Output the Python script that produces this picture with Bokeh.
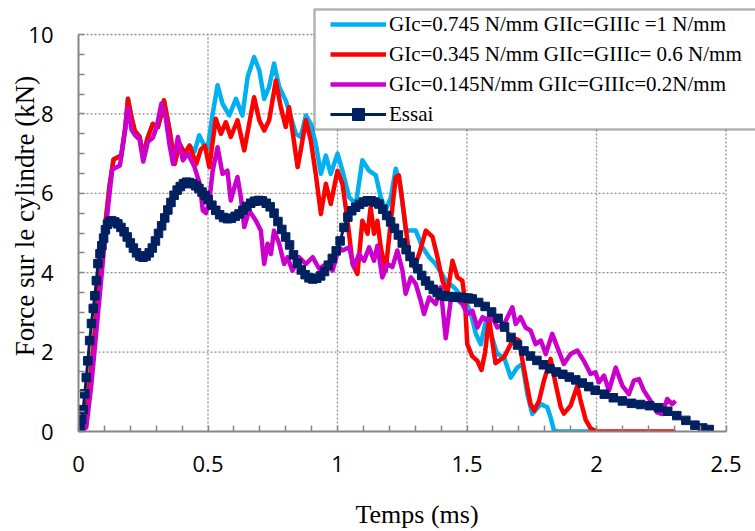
from bokeh.plotting import figure
from bokeh.models import Legend, LegendItem, FixedTicker, Range1d, BoxAnnotation
from bokeh.embed import file_html
from bokeh.resources import INLINE

# ---------------- data ----------------
x_ticks = [0, 0.5, 1, 1.5, 2, 2.5]
x_tick_labels = ["0", "0.5", "1", "1.5", "2", "2.5"]
x_minor = [0.1, 0.2, 0.3, 0.4, 0.6, 0.7, 0.8, 0.9, 1.1, 1.2, 1.3, 1.4,
           1.6, 1.7, 1.8, 1.9, 2.1, 2.2, 2.3, 2.4]
y_ticks = [0, 2, 4, 6, 8, 10]
y_tick_labels = ["0", "2", "4", "6", "8", "10"]
y_minor = [0.5, 1, 1.5, 2.5, 3, 3.5, 4.5, 5, 5.5, 6.5, 7, 7.5, 8.5, 9, 9.5]

series_labels = [
    "GIc=0.745 N/mm GIIc=GIIIc =1 N/mm",
    "GIc=0.345 N/mm GIIc=GIIIc= 0.6 N/mm",
    "GIc=0.145N/mm GIIc=GIIIc=0.2N/mm",
    "Essai",
]

t_blue = [0.000, 0.020, 0.040, 0.060, 0.080, 0.100, 0.120, 0.135, 0.150, 0.165,
          0.180, 0.191, 0.205, 0.217, 0.236, 0.249, 0.268, 0.287, 0.307, 0.318,
          0.330, 0.352, 0.371, 0.390, 0.410, 0.429, 0.448, 0.466, 0.482, 0.498,
          0.518, 0.537, 0.556, 0.582, 0.608, 0.633, 0.653, 0.678, 0.698, 0.717,
          0.736, 0.755, 0.775, 0.800, 0.820, 0.839, 0.858, 0.878, 0.897, 0.916,
          0.936, 0.955, 0.974, 1.000, 1.019, 1.045, 1.071, 1.096, 1.122, 1.148,
          1.167, 1.186, 1.206, 1.225, 1.244, 1.263, 1.302, 1.328, 1.354, 1.379,
          1.418, 1.450, 1.482, 1.500, 1.514, 1.534, 1.553, 1.575, 1.595, 1.617,
          1.643, 1.669, 1.694, 1.714, 1.733, 1.752, 1.785, 1.810, 1.823, 1.836,
          1.850, 1.977]
f_blue = [0.00, 0.05, 1.00, 2.30, 3.70, 5.00, 6.20, 6.85, 6.90, 6.95,
          7.60, 8.38, 7.90, 7.58, 7.42, 6.95, 7.42, 7.75, 7.67, 7.95,
          8.34, 7.58, 6.74, 7.25, 7.00, 7.20, 7.05, 7.46, 7.25, 7.10,
          8.00, 8.72, 8.26, 7.96, 8.38, 7.96, 8.93, 9.43, 9.10, 8.38,
          8.68, 9.27, 8.68, 8.34, 7.92, 7.50, 7.42, 7.96, 7.75, 7.25,
          6.49, 6.95, 6.49, 7.00, 6.57, 5.90, 5.73, 6.83, 6.57, 6.45,
          5.90, 5.57, 5.90, 6.62, 6.15, 5.06, 5.06, 4.64, 4.39, 4.22,
          3.80, 3.63, 3.38, 3.20, 3.00, 2.46, 2.20, 2.85, 2.40, 1.95,
          1.87, 1.36, 1.61, 1.70, 0.94, 0.44, 0.69, 0.61, 0.35, 0.03,
          0.00, 0.00]

t_red = [0.000, 0.020, 0.040, 0.060, 0.080, 0.100, 0.120, 0.135, 0.150, 0.165,
         0.180, 0.191, 0.205, 0.217, 0.236, 0.249, 0.268, 0.287, 0.307, 0.318,
         0.330, 0.352, 0.371, 0.390, 0.410, 0.429, 0.455, 0.472, 0.488, 0.505,
         0.530, 0.550, 0.569, 0.588, 0.614, 0.640, 0.659, 0.678, 0.698, 0.717,
         0.736, 0.762, 0.781, 0.800, 0.813, 0.826, 0.846, 0.858, 0.878, 0.897,
         0.916, 0.936, 0.955, 0.974, 1.000, 1.019, 1.039, 1.058, 1.077, 1.096,
         1.116, 1.128, 1.141, 1.154, 1.167, 1.186, 1.206, 1.225, 1.237, 1.257,
         1.276, 1.296, 1.315, 1.341, 1.367, 1.386, 1.405, 1.424, 1.444, 1.463,
         1.482, 1.492, 1.501, 1.520, 1.540, 1.556, 1.570, 1.585, 1.610, 1.643,
         1.680, 1.700, 1.726, 1.745, 1.759, 1.778, 1.797, 1.823, 1.842, 1.862,
         1.874, 1.900, 1.926, 1.939, 1.958, 1.977, 2.000, 2.305]
f_red = [0.00, 0.05, 1.00, 2.30, 3.70, 5.00, 6.20, 6.85, 6.90, 6.95,
         7.60, 8.38, 7.90, 7.58, 7.42, 6.95, 7.42, 7.75, 7.67, 7.95,
         8.34, 7.58, 6.74, 7.25, 7.00, 7.20, 6.74, 7.10, 7.20, 6.66,
         7.88, 7.50, 7.79, 7.42, 7.84, 7.08, 7.75, 8.42, 7.84, 7.58,
         7.84, 8.84, 8.17, 7.67, 8.17, 7.58, 6.66, 7.08, 7.84, 7.33,
         6.49, 5.48, 6.24, 5.73, 6.57, 6.24, 5.31, 4.22, 3.97, 5.31,
         4.98, 5.65, 4.98, 5.31, 4.64, 4.05, 5.31, 6.41, 6.45, 5.48,
         4.47, 4.14, 4.47, 5.06, 4.90, 4.39, 3.80, 3.47, 4.30, 3.88,
         3.80, 3.30, 2.20, 1.90, 1.78, 1.55, 2.00, 2.85, 1.72, 1.87,
         2.35, 2.30, 1.36, 0.70, 0.52, 0.77, 1.28, 1.83, 1.20, 0.61,
         0.45, 0.65, 1.15, 0.77, 0.30, 0.08, 0.00, 0.00]

t_mag = [0.000, 0.030, 0.050, 0.070, 0.090, 0.110, 0.130, 0.145, 0.160, 0.175,
         0.190, 0.205, 0.220, 0.236, 0.250, 0.268, 0.287, 0.303, 0.320, 0.337,
         0.352, 0.365, 0.384, 0.403, 0.422, 0.448, 0.468, 0.480, 0.492, 0.505,
         0.518, 0.537, 0.556, 0.575, 0.588, 0.604, 0.614, 0.627, 0.640, 0.659,
         0.685, 0.704, 0.717, 0.730, 0.743, 0.755, 0.775, 0.794, 0.807, 0.826,
         0.852, 0.878, 0.904, 0.929, 0.955, 0.981, 1.006, 1.019, 1.045, 1.064,
         1.083, 1.103, 1.122, 1.141, 1.154, 1.173, 1.193, 1.212, 1.231, 1.251,
         1.263, 1.283, 1.302, 1.321, 1.334, 1.354, 1.379, 1.398, 1.418, 1.437,
         1.456, 1.482, 1.501, 1.521, 1.540, 1.560, 1.579, 1.598, 1.617, 1.643,
         1.675, 1.688, 1.707, 1.726, 1.746, 1.765, 1.785, 1.804, 1.829, 1.849,
         1.874, 1.900, 1.926, 1.951, 1.977, 1.996, 2.009, 2.029, 2.048, 2.074,
         2.100, 2.125, 2.144, 2.164, 2.183, 2.209, 2.234, 2.253, 2.273, 2.292,
         2.305]
f_mag = [0.00, 0.10, 1.20, 2.60, 4.00, 5.40, 6.60, 6.65, 6.70, 7.40,
         8.15, 7.60, 7.45, 7.35, 6.80, 7.30, 7.40, 7.70, 8.26, 7.90,
         7.20, 6.74, 7.42, 6.83, 7.00, 6.66, 6.24, 5.57, 5.50, 5.80,
         6.57, 7.16, 6.49, 6.57, 5.82, 6.20, 6.41, 5.90, 5.15, 5.57,
         5.31, 5.06, 4.22, 4.73, 4.47, 5.06, 4.73, 4.22, 4.39, 4.05,
         4.39, 4.22, 4.39, 4.10, 4.22, 4.05, 4.64, 4.56, 4.64, 4.14,
         4.47, 4.30, 4.64, 4.30, 4.68, 3.88, 4.22, 4.14, 4.56, 4.05,
         3.47, 3.88, 3.72, 3.30, 2.96, 3.38, 3.21, 3.63, 2.35, 3.30,
         3.38, 3.21, 2.96, 3.04, 2.62, 2.88, 2.79, 2.88, 2.62, 2.70,
         3.13, 2.71, 2.88, 2.62, 2.54, 2.20, 2.29, 1.95, 2.46, 2.12,
         1.70, 1.95, 2.04, 1.78, 1.45, 1.49, 1.24, 1.41, 1.03, 1.61,
         1.15, 0.94, 1.28, 1.32, 1.03, 0.77, 0.48, 0.44, 0.82, 0.69,
         0.77]

t_essai = [0.000, 0.006, 0.012, 0.018, 0.024, 0.030, 0.036, 0.043, 0.050, 0.057,
           0.063, 0.069, 0.075, 0.083, 0.090, 0.097, 0.104, 0.112, 0.120, 0.128,
           0.140, 0.152, 0.164, 0.176, 0.188, 0.200, 0.212, 0.224, 0.237, 0.249,
           0.261, 0.273, 0.285, 0.297, 0.309, 0.321, 0.333, 0.345, 0.357, 0.369,
           0.381, 0.393, 0.405, 0.417, 0.429, 0.441, 0.453, 0.465, 0.477, 0.489,
           0.501, 0.515, 0.530, 0.545, 0.560, 0.575, 0.590, 0.605, 0.620, 0.635,
           0.650, 0.665, 0.680, 0.695, 0.710, 0.725, 0.740, 0.755, 0.770, 0.785,
           0.800, 0.815, 0.830, 0.845, 0.860, 0.875, 0.890, 0.905, 0.920, 0.935,
           0.950, 0.965, 0.980, 0.995, 1.010, 1.025, 1.040, 1.055, 1.070, 1.085,
           1.100, 1.115, 1.130, 1.145, 1.160, 1.175, 1.190, 1.205, 1.220, 1.235,
           1.250, 1.265, 1.280, 1.295, 1.310, 1.325, 1.340, 1.355, 1.370, 1.385,
           1.400, 1.415, 1.430, 1.445, 1.460, 1.475, 1.490, 1.505, 1.520, 1.545,
           1.570, 1.595, 1.620, 1.645, 1.670, 1.695, 1.720, 1.745, 1.770, 1.795,
           1.820, 1.845, 1.870, 1.895, 1.920, 1.945, 1.970, 1.995, 2.030, 2.065,
           2.100, 2.135, 2.170, 2.205, 2.240, 2.275, 2.310, 2.345, 2.380, 2.410,
           2.435]
f_essai = [0.00, 0.10, 0.30, 0.55, 0.95, 1.36, 1.78, 2.29, 2.72, 3.10,
           3.42, 3.80, 4.23, 4.48, 4.68, 4.87, 5.08, 5.22, 5.29, 5.31,
           5.28, 5.23, 5.14, 5.03, 4.90, 4.75, 4.62, 4.50, 4.42, 4.39,
           4.42, 4.50, 4.62, 4.80, 4.99, 5.18, 5.38, 5.58, 5.77, 5.95,
           6.08, 6.17, 6.24, 6.28, 6.27, 6.24, 6.19, 6.12, 6.03, 5.94,
           5.84, 5.70, 5.57, 5.46, 5.39, 5.36, 5.37, 5.42, 5.48, 5.57,
           5.67, 5.75, 5.80, 5.82, 5.81, 5.75, 5.66, 5.50, 5.29, 5.09,
           4.90, 4.70, 4.45, 4.24, 4.07, 3.95, 3.87, 3.84, 3.86, 3.92,
           4.03, 4.19, 4.36, 4.55, 4.80, 5.14, 5.40, 5.56, 5.65, 5.72,
           5.78, 5.81, 5.81, 5.78, 5.73, 5.60, 5.44, 5.28, 5.12, 4.95,
           4.75, 4.58, 4.41, 4.25, 4.10, 3.93, 3.79, 3.68, 3.58, 3.50,
           3.43, 3.41, 3.40, 3.39, 3.38, 3.38, 3.37, 3.36, 3.34, 3.25,
           3.15, 3.01, 2.85, 2.63, 2.37, 2.18, 2.03, 1.90, 1.79, 1.68,
           1.58, 1.50, 1.44, 1.37, 1.30, 1.22, 1.13, 1.04, 0.94, 0.85,
           0.77, 0.71, 0.68, 0.65, 0.60, 0.51, 0.40, 0.28, 0.16, 0.09,
           0.05]

# ---------------- layout (pixels) ----------------
W, H = 755, 531
LEFT, BOTTOM = 78, 100
FRAME_W = W - LEFT          # frame runs to the right edge (room for legend)
FRAME_H = H - BOTTOM        # frame runs to the top edge (room for legend)
PX_X = 259.0                # pixels per ms
PX_Y = 39.7                 # pixels per kN

AX = "#868686"
p = figure(width=W, height=H, output_backend="svg", toolbar_location=None,
           title=None,
           x_range=Range1d(0, FRAME_W / PX_X), y_range=Range1d(0, FRAME_H / PX_Y),
           min_border_left=LEFT, min_border_right=0, min_border_top=0,
           min_border_bottom=BOTTOM)
p.outline_line_color = None
p.background_fill_color = "white"
p.xgrid.visible = False
p.ygrid.visible = False

xt = FixedTicker(ticks=x_ticks, minor_ticks=x_minor)
yt = FixedTicker(ticks=y_ticks, minor_ticks=y_minor)
p.xaxis.ticker = xt
p.yaxis.ticker = yt
p.xaxis.bounds = (x_ticks[0], x_ticks[-1])
p.yaxis.bounds = (y_ticks[0], y_ticks[-1])
p.xaxis.major_label_overrides = {float(v): s for v, s in zip(x_ticks, x_tick_labels)}
p.yaxis.major_label_overrides = {float(v): s for v, s in zip(y_ticks, y_tick_labels)}

# dotted grid, limited to the data area
gx = x_ticks[1:]
p.segment(x0=gx, y0=[y_ticks[0]] * len(gx), x1=gx, y1=[y_ticks[-1]] * len(gx),
          line_color="#8f8f8f", line_dash="2 2", line_width=1.3)
gy = y_ticks[1:]
p.segment(x0=[x_ticks[0]] * len(gy), y0=gy, x1=[x_ticks[-1]] * len(gy), y1=gy,
          line_color="#8f8f8f", line_dash="2 2", line_width=1.3)

for ax in (p.xaxis[0], p.yaxis[0]):
    ax.axis_line_color = AX
    ax.axis_line_width = 2
    ax.major_tick_line_color = AX
    ax.minor_tick_line_color = AX
    ax.major_tick_line_width = 1.5
    ax.minor_tick_line_width = 1.5
    ax.major_tick_in = 6
    ax.major_tick_out = 0
    ax.minor_tick_in = 6
    ax.minor_tick_out = 0
    ax.major_label_text_font = "Open Sans"
    ax.major_label_text_font_size = "22px"
    ax.major_label_text_color = "black"
    ax.axis_label_text_font = "Liberation Serif"
    ax.axis_label_text_font_style = "normal"
    ax.axis_label_text_color = "black"

p.xaxis.axis_label = "Temps (ms)"
p.yaxis.axis_label = "Force sur le cylindre (kN)"
p.xaxis.axis_label_text_font_size = "26px"
p.yaxis.axis_label_text_font_size = "27px"
p.xaxis.major_label_standoff = 24
p.yaxis.major_label_standoff = 25
p.xaxis.axis_label_standoff = 25
p.yaxis.axis_label_standoff = -15

r_blue = p.line(t_blue, f_blue, line_color="#00B0F0", line_width=4.5, line_join="round")
r_red = p.line(t_red, f_red, line_color="#FF0000", line_width=4.5, line_join="round")
r_mag = p.line(t_mag, f_mag, line_color="#CC00CC", line_width=4.5, line_join="round")
r_es_l = p.line(t_essai, f_essai, line_color="#002060", line_width=3)
r_es_p = p.scatter(t_essai, f_essai, marker="square", size=8.5,
                   fill_color="#002060", line_color="#002060")

# legend frame (canvas pixels)
box = BoxAnnotation(left=314, right=W + 10, top=9, bottom=129,
                    left_units="canvas", right_units="canvas",
                    top_units="canvas", bottom_units="canvas",
                    fill_color="white", fill_alpha=1,
                    line_color="black", line_width=2.5)
p.add_layout(box)

legend = Legend(items=[
    LegendItem(label=series_labels[0], renderers=[r_blue]),
    LegendItem(label=series_labels[1], renderers=[r_red]),
    LegendItem(label=series_labels[2], renderers=[r_mag]),
    LegendItem(label=series_labels[3], renderers=[r_es_l, r_es_p]),
], location=(330 - LEFT, FRAME_H - 129))
legend.border_line_alpha = 0
legend.background_fill_alpha = 0
legend.label_text_font = "Liberation Serif"
legend.label_text_font_size = "21px"
legend.label_text_color = "black"
legend.padding = 0
legend.spacing = 0
legend.margin = 0
legend.glyph_height = 30
legend.label_height = 30
legend.glyph_width = 56
legend.label_standoff = 3
p.add_layout(legend)

open("out.html", "w").write(file_html(p, INLINE))
